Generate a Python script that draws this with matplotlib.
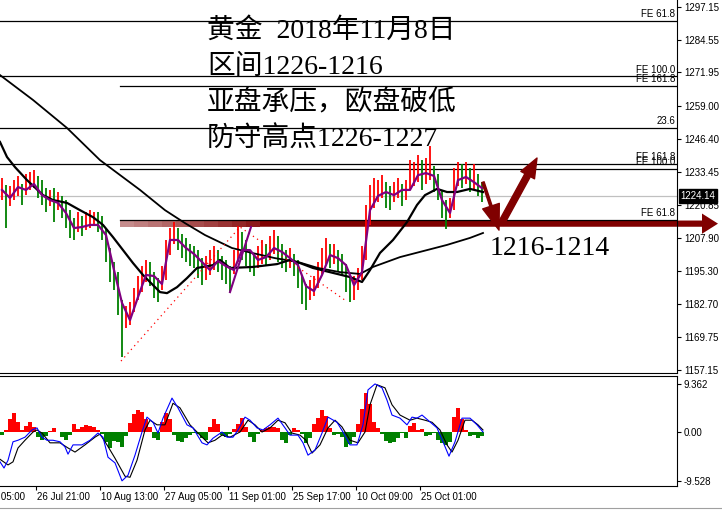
import numpy as np
import matplotlib
matplotlib.use("Agg")
import matplotlib.pyplot as plt
from matplotlib.patches import Polygon
from matplotlib.lines import Line2D

# ---- price bars (H4), one bar every 4 chart units ----
bar_close = [1226.6, 1222.7, 1224.3, 1226.6, 1228.1, 1225.0, 1228.5, 1229.6, 1230.4, 1227.3,
             1224.3, 1222.7, 1223.5, 1220.8, 1222.0, 1219.6, 1216.9, 1212.7, 1211.9, 1213.5,
             1211.9, 1214.2, 1215.0, 1215.8, 1214.2, 1211.1, 1204.2, 1196.5, 1194.9, 1184.1,
             1177.2, 1178.0, 1178.7, 1184.1, 1188.0, 1191.8, 1195.7, 1193.8, 1189.9, 1188.0,
             1191.8, 1201.5, 1207.3, 1210.4, 1207.3, 1205.0, 1203.4, 1201.5, 1200.3, 1198.8,
             1194.9, 1196.5, 1198.8, 1200.3, 1198.8, 1196.5, 1194.9, 1192.6, 1198.8, 1205.4,
             1204.2, 1201.1, 1198.8, 1197.2, 1200.3, 1202.7, 1201.5, 1204.2, 1206.5, 1203.4,
             1201.1, 1198.8, 1200.3, 1198.0, 1193.8, 1187.2, 1184.9, 1188.0, 1189.5, 1193.8,
             1198.8, 1202.7, 1200.3, 1201.9, 1198.8, 1197.2, 1191.8, 1187.2, 1188.8, 1191.8,
             1199.6, 1213.1, 1222.7, 1224.6, 1226.6, 1228.1, 1224.6, 1222.7, 1225.8, 1227.3,
             1224.3, 1225.8, 1230.4, 1232.0, 1234.3, 1231.2, 1233.5, 1235.0, 1230.4, 1226.6,
             1218.8, 1216.5, 1218.8, 1228.5, 1232.3, 1231.2, 1233.5, 1229.6, 1231.2, 1228.1,
             1224.14]
bar_high = [1231.2, 1228.5, 1228.1, 1230.4, 1232.0, 1228.9, 1232.7, 1233.5, 1234.3, 1232.0,
            1230.4, 1227.3, 1226.6, 1227.3, 1225.8, 1224.3, 1222.7, 1218.8, 1215.8, 1218.1,
            1216.5, 1218.1, 1218.8, 1218.1, 1218.1, 1216.5, 1211.9, 1204.2, 1198.8, 1194.9,
            1184.1, 1181.8, 1183.4, 1188.8, 1193.4, 1197.2, 1199.6, 1198.8, 1194.9, 1192.6,
            1197.2, 1207.3, 1211.9, 1214.2, 1211.9, 1209.6, 1208.1, 1205.7, 1205.0, 1203.4,
            1200.3, 1201.1, 1203.4, 1205.0, 1203.4, 1201.1, 1199.6, 1197.2, 1203.4, 1212.7,
            1210.4, 1207.3, 1203.4, 1201.9, 1205.0, 1207.3, 1205.7, 1208.8, 1211.1, 1208.8,
            1205.7, 1203.4, 1204.2, 1201.9, 1199.6, 1193.8, 1190.3, 1191.8, 1193.4, 1198.8,
            1204.2, 1208.1, 1205.7, 1205.7, 1203.4, 1201.9, 1198.0, 1192.6, 1193.4, 1196.5,
            1205.0, 1220.8, 1228.5, 1231.2, 1230.4, 1232.3, 1229.6, 1228.1, 1229.6, 1231.2,
            1228.9, 1230.4, 1238.1, 1237.4, 1240.1, 1238.1, 1238.9, 1243.5, 1235.8, 1232.7,
            1226.6, 1222.7, 1223.5, 1235.0, 1237.4, 1236.6, 1237.4, 1235.0, 1236.6, 1232.7,
            1229.6]
bar_low = [1222.7, 1211.9, 1220.4, 1222.7, 1224.3, 1220.8, 1224.6, 1226.6, 1227.3, 1223.5,
           1220.8, 1218.1, 1220.4, 1214.2, 1218.8, 1215.8, 1211.9, 1208.0, 1207.3, 1210.4,
           1208.8, 1211.1, 1211.9, 1212.7, 1210.4, 1207.3, 1198.8, 1191.1, 1188.0, 1178.3,
           1162.1, 1173.3, 1174.5, 1179.5, 1184.1, 1187.2, 1191.1, 1189.5, 1184.9, 1183.4,
           1188.0, 1191.8, 1201.5, 1205.7, 1203.4, 1200.3, 1198.8, 1197.2, 1196.5, 1192.6,
           1189.9, 1191.8, 1193.8, 1195.7, 1194.9, 1191.8, 1190.3, 1187.2, 1194.2, 1198.8,
           1199.6, 1197.2, 1194.9, 1193.4, 1196.5, 1198.0, 1197.2, 1199.6, 1201.9, 1198.8,
           1196.5, 1194.9, 1196.5, 1193.4, 1188.8, 1182.6, 1180.3, 1184.1, 1185.7, 1188.8,
           1194.2, 1198.0, 1196.5, 1198.0, 1194.9, 1193.4, 1187.2, 1183.4, 1184.1, 1188.0,
           1191.8, 1199.6, 1213.1, 1219.6, 1222.0, 1223.5, 1219.6, 1218.8, 1222.0, 1223.5,
           1220.4, 1222.7, 1226.6, 1228.1, 1229.6, 1226.6, 1228.9, 1230.4, 1225.8, 1222.7,
           1215.8, 1211.5, 1215.8, 1218.8, 1228.1, 1227.3, 1228.9, 1225.8, 1226.6, 1224.3,
           1222.0]
first_open = 1224.0
last_price = 1224.14

# ---- moving averages ----
ma_fast_x = [2, 10, 18, 26, 34, 42, 50, 58, 66, 74, 82, 90, 98, 106, 114, 122, 130, 138, 146, 154,
             162, 170, 178, 186, 194, 202, 210, 218, 226, 234, 242, 250, 258, 266, 274, 282, 290, 298,
             306, 314, 322, 330, 338, 346, 354, 362, 370, 378, 386, 394, 402, 410, 418, 426, 434, 442,
             450, 458, 466, 474, 482]
ma_fast = [1226.6, 1223.5, 1227.7, 1226.6, 1228.9, 1224.6, 1222.7, 1221.6, 1217.7, 1211.9,
           1212.3, 1213.1, 1213.1, 1209.2, 1195.7, 1183.0, 1176.4, 1185.3, 1193.8, 1193.4,
           1190.3, 1207.3, 1207.3, 1204.2, 1201.9, 1198.8, 1195.7, 1199.2, 1197.2, 1195.7,
           1203.4, 1203.4, 1199.6, 1200.7, 1204.2, 1202.7, 1200.3, 1197.6, 1189.5, 1187.6,
           1193.8, 1201.5, 1200.3, 1197.6, 1189.9, 1194.9, 1218.8, 1224.3, 1225.8, 1224.6,
           1226.6, 1226.6, 1232.3, 1233.1, 1232.0, 1222.7, 1217.7, 1230.4, 1231.6, 1229.6,
           1227.3]
ma_mid_x = [0, 7, 15, 27, 43, 53, 67, 80, 93, 103, 113, 123, 133, 143, 153, 160, 167, 177, 187,
            197, 213, 220, 230, 253, 277, 290, 300, 313, 333, 350, 362, 370, 380, 393, 407, 417,
            425, 437, 447, 457, 470, 483]
ma_mid = [1245.1, 1239.3, 1235.4, 1230.4, 1224.6, 1222.7, 1221.6, 1218.8, 1216.1, 1213.1,
          1208.4, 1203.4, 1198.4, 1193.8, 1189.9, 1187.2, 1186.8, 1189.1, 1192.6, 1196.5,
          1197.6, 1199.6, 1196.5, 1196.9, 1198.0, 1199.6, 1198.4, 1196.5, 1194.6, 1193.0,
          1191.1, 1195.7, 1202.3, 1207.3, 1214.2, 1220.8, 1224.6, 1227.0, 1225.8, 1225.8,
          1227.0, 1225.8]
ma_slow_x = [0, 33, 67, 100, 140, 165, 185, 205, 232, 252, 275, 298, 318, 340, 360, 373, 400,
             427, 447, 470, 483]
ma_slow = [1270.9, 1261.3, 1250.5, 1238.1, 1226.6, 1218.8, 1213.8, 1209.2, 1204.2, 1202.3,
           1200.3, 1198.8, 1196.5, 1194.9, 1194.2, 1196.9, 1200.7, 1203.4, 1205.4, 1208.1,
           1210.0]

# ---- drawn objects ----
level_price = [1291.75, 1270.5, 1266.7, 1250.5, 1236.6, 1234.7, 1215.0]
level_start = [0, 0, 120, 0, 0, 120, 120]
level_label = ["FE 61.8", "FE 100.0", "FE 161.8", "23.6", "FE 161.8", "FE 100.0", "FE 61.8"]
fibo_x = [121, 240, 345]
fibo_y = [1160.6, 1212.3, 1184.1]
trend_x = [230, 251]
trend_y = [1187.2, 1212.3]

# ---- OsMA / MACD panel ----
osma = [-0.5, 0.3, 2.5, 3.7, 2.0, 0.3, 1.2, 1.9, 1.0, -1.0,
        -1.5, -0.8, 0.2, 0.8, 0.1, -1.0, -1.6, -0.6, 1.6, 0.5,
        1.0, 1.3, 1.2, 1.0, 0.3, -0.3, -2.0, -3.1, -1.8, -2.0,
        -3.0, -0.8, 1.8, 3.5, 4.3, 3.8, 2.6, 1.0, -1.2, -1.6,
        2.0, 3.7, 2.5, -0.5, -1.8, -2.0, -1.2, -0.6, -0.2, -0.4,
        -1.2, -1.6, 1.0, 2.5, 1.5, -0.6, -1.0, -0.4, 0.6, 1.6,
        2.7, 1.0, -1.0, -2.0, -0.3, 0.3, 0.8, 1.0, 1.0, 0.8,
        -1.6, -2.2, -0.6, 0.8, 0.4, -0.4, -2.1, -1.2, 1.5, 2.8,
        4.3, 3.2, 0.8, -0.6, -0.3, -1.0, -2.9, -2.4, -1.0, 1.5,
        4.5, 7.6, 5.5, 2.0, 0.8, -0.4, -1.8, -2.1, -2.0, -1.2,
        -0.2, -1.2, 1.2, 1.8, 0.4, 0.5, -0.8, -0.5, -0.2, -1.5,
        -2.2, -2.5, -2.0, 3.0, 4.7, 2.5, 0.3, -0.8, -0.5, -1.2,
        -0.8]
macd_x = [0, 4, 8, 13, 18, 25, 32, 37, 42, 47, 53, 60, 65, 68, 73, 82, 90, 98, 103, 108, 115, 122,
          128, 135, 142, 147, 153, 158, 163, 172, 178, 187, 193, 202, 207, 213, 222, 227, 233, 238,
          245, 250, 257, 263, 270, 278, 285, 290, 298, 303, 308, 315, 322, 328, 337, 343, 350, 357,
          363, 368, 375, 382, 387, 392, 400, 407, 412, 417, 422, 428, 437, 443, 449, 455, 462, 470,
          477, 483]
macd = [-5.8, -7.0, -5.5, -1.9, -1.6, -1.0, 0.4, 0.8, -1.0, -1.6, -1.6, -1.9, -2.9, -4.3, -2.5,
        -2.5, -1.6, -0.2, -1.0, -4.9, -6.0, -9.5, -8.4, -4.5, 0.0, 2.9, 1.9, -0.2, 2.7, 6.6, 4.7,
        1.4, 0.8, -2.1, -2.5, -1.2, 0.0, -1.0, -1.0, 0.4, 2.9, 2.3, 0.8, 0.4, 1.4, 2.7, 0.8, -0.6,
        -0.6, -2.1, -4.5, -3.5, -0.2, 2.9, 1.9, 0.0, -2.5, -2.5, 1.4, 8.2, 9.36, 8.6, 6.2, 3.3, 2.7,
        1.4, 2.9, 2.7, 3.3, 2.3, 0.8, -1.9, -4.7, -1.9, 2.7, 2.7, 1.4, 0.0]
signal_x = [0, 8, 13, 18, 25, 33, 37, 42, 50, 60, 68, 75, 85, 95, 100, 107, 115, 125, 130, 137,
            145, 150, 157, 165, 173, 180, 190, 200, 208, 215, 222, 230, 240, 248, 255, 262, 270,
            278, 285, 292, 300, 306, 312, 320, 328, 335, 342, 350, 358, 365, 370, 377, 385, 392,
            400, 410, 417, 425, 432, 440, 447, 452, 458, 465, 472, 478, 483]
signal = [-5.3, -6.4, -5.8, -3.1, -1.6, 0.0, 0.4, -0.2, -2.1, -2.1, -3.1, -3.9, -2.5, -1.0, -0.4,
          -2.5, -5.1, -8.6, -8.8, -5.5, 0.4, 2.3, 1.4, 1.4, 5.6, 4.7, 1.4, -0.6, -2.1, -1.6, -0.6,
          -1.0, 0.0, 2.3, 1.4, 0.0, 0.8, 2.3, 1.8, -0.2, -0.6, -1.6, -4.1, -2.5, 0.8, 2.3, 1.0,
          -1.6, -2.1, 0.0, 5.3, 9.2, 8.6, 5.3, 3.3, 2.3, 2.7, 2.3, 1.9, 0.4, -2.5, -3.9, -1.6, 2.3,
          2.3, 1.4, 0.4]

price_ticks = [1297.15, 1284.55, 1271.95, 1259.00, 1246.40, 1233.45, 1220.85, 1207.90,
               1195.30, 1182.70, 1169.75, 1157.15]
osc_ticks = [9.362, 0.0, -9.528]
osc_labels = ["9.362", "0.00", "-9.528"]
time_ticks = [-28, 36, 100, 164, 228, 292, 356, 420]
time_labels = ["11 Jul 05:00", "26 Jul 21:00", "10 Aug 13:00", "27 Aug 05:00", "11 Sep 01:00",
               "25 Sep 17:00", "10 Oct 09:00", "25 Oct 01:00"]

notes = ["黄金  2018年11月8日", "区间1226-1216", "亚盘承压，欧盘破低", "防守高点1226-1227"]
notes_y = [1287.9, 1274.0, 1260.1, 1245.8]
target_text = "1216-1214"

maroon = "#800000"
purple = "#800080"
num_font = "Liberation Sans"
cjk = ["Liberation Serif", "Noto Sans CJK SC"]

W, H = 722, 511
fig = plt.figure(figsize=(W / 100, H / 100), dpi=100)
ax = fig.add_axes([0, 1 - 373 / H, 677 / W, 373 / H])
ax2 = fig.add_axes([0, 1 - 486 / H, 677 / W, 110 / H])

# ---- main chart ----
ax.set_xlim(0, 677)
ax.set_ylim(1156.0, 1299.85)

for p, x0, lab in zip(level_price, level_start, level_label):
    ax.plot([x0, 677], [p, p], color="black", lw=0.9)
    ax.text(675, p + 0.6, lab, ha="right", va="bottom", fontsize=7, family=num_font)
ax.axhline(last_price, color="#c0c0c0", lw=0.9)

bar_x = np.arange(len(bar_close)) * 4 + 2
bar_open = np.r_[first_open, bar_close[:-1]]
bar_col = ["red" if c >= o else "green" for c, o in zip(bar_close, bar_open)]
ax.vlines(bar_x, bar_low, bar_high, colors=bar_col, lw=1.3)

ax.plot(ma_slow_x, ma_slow, color="black", lw=1.3)
ax.plot(ma_mid_x, ma_mid, color="black", lw=1.6)
ax.plot(ma_fast_x, ma_fast, color=purple, lw=1.6)
ax.plot(fibo_x, fibo_y, color="red", lw=0.9, ls=(0, (1, 3)))
ax.plot(trend_x, trend_y, color=purple, lw=1.5)

# big horizontal arrow, faded on the left
y_c, half_s, half_h = 1213.6, 1.2, 3.9
x_fade, x_solid, x_base, x_tip = 120, 260, 702, 718
steps = np.linspace(x_fade, x_solid, 11)
for k in range(10):
    ax.fill_between([steps[k], steps[k + 1]], y_c - half_s, y_c + half_s,
                    color=maroon, alpha=0.45 + 0.05 * k, lw=0)
ax.add_patch(Polygon([(x_solid, y_c - half_s), (x_base, y_c - half_s), (x_base, y_c - half_h),
                      (x_tip, y_c), (x_base, y_c + half_h), (x_base, y_c + half_s),
                      (x_solid, y_c + half_s)], closed=True, color=maroon, lw=0, clip_on=False))

ax.annotate("", xy=(499, 1211.1), xytext=(483, 1229.6),
            arrowprops=dict(arrowstyle="simple,head_length=1.3,head_width=0.9,tail_width=0.12",
                            color=maroon, shrinkA=0, shrinkB=0, mutation_scale=14))
ax.annotate("", xy=(537, 1238.9), xytext=(501, 1213.5),
            arrowprops=dict(arrowstyle="simple,head_length=1.0,head_width=0.8,tail_width=0.32",
                            color=maroon, shrinkA=0, shrinkB=0, mutation_scale=14))

for s, y in zip(notes, notes_y):
    ax.text(207, y, s, fontsize=20, family=cjk, fontweight="light", va="center", ha="left")
ax.text(490, 1204.2, target_text, fontsize=20, family=cjk, va="center", ha="left")

ax.yaxis.tick_right()
ax.set_yticks(price_ticks, labels=[f"{v:.2f}" for v in price_ticks])
ax.tick_params(axis="y", length=3, width=0.8, pad=2, labelsize=7)
for lab in ax.get_yticklabels():
    lab.set_family(num_font)
ax.set_xticks([])
ax.spines["left"].set_visible(False)
ax.spines["top"].set_visible(False)

ax.annotate(f"{last_price:.2f}", xy=(1, last_price), xycoords=("axes fraction", "data"),
            xytext=(2.5, 0), textcoords="offset points", ha="left", va="center",
            fontsize=7, family=num_font, color="white", annotation_clip=False,
            bbox=dict(boxstyle="square,pad=0.2", fc="black", ec="black"))

# ---- oscillator ----
ax2.set_xlim(0, 677)
ax2.set_ylim(-10.5, 10.9)
ax2.bar(bar_x, osma, width=4, color=["red" if v > 0 else "green" for v in osma], lw=0)
ax2.plot(signal_x, signal, color="black", lw=0.8)
ax2.plot(macd_x, macd, color="blue", lw=0.8)
ax2.yaxis.tick_right()
ax2.set_yticks(osc_ticks, labels=osc_labels)
ax2.tick_params(axis="y", length=3, width=0.8, pad=2, labelsize=7)
for lab in ax2.get_yticklabels():
    lab.set_family(num_font)
ax2.set_xticks(time_ticks[1:], labels=[])
ax2.tick_params(axis="x", length=3, width=0.8)
for t, lab in zip(time_ticks, time_labels):
    ax2.text(t + 1, -0.055, lab, transform=ax2.get_xaxis_transform(), ha="left", va="top",
             fontsize=7, family=num_font, clip_on=False)
ax2.spines["left"].set_visible(False)

fig.add_artist(Line2D([0, 1], [1 - 508 / H, 1 - 508 / H], color="#a0a0a0", lw=0.8))

fig.savefig("out.png", dpi=100)
